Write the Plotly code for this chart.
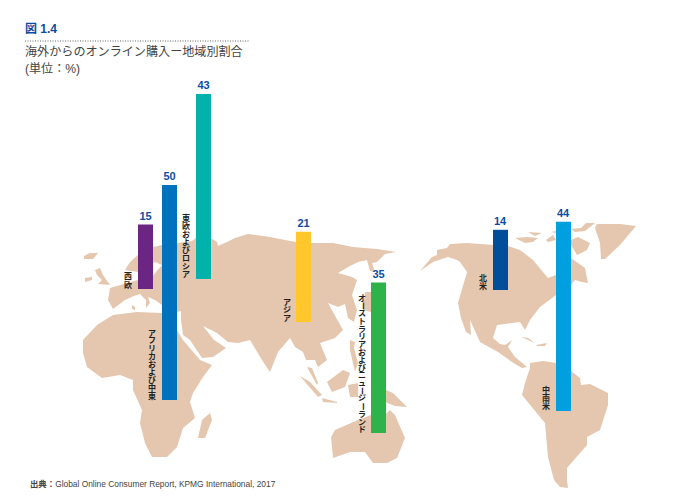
import plotly.graph_objects as go

# chart values
regions = ['西欧', 'アフリカおよび中東', '東欧およびロシア', 'アジア',
           'オーストラリアおよびニュージーランド', '北米', '中南米']
shares = [15, 50, 43, 21, 35, 14, 44]
bar_colors = ['#6B2583', '#0071BC', '#00B2A9', '#FFC72C', '#2DB34A', '#004E9A', '#009FDF']
bar_x = [145.5, 169.5, 203.5, 303.5, 378.5, 500.5, 563.5]
bar_bottom_px = [289, 400, 279, 322, 433, 290, 411]
px_per_unit = 4.3

# label column: x, y of the first char, pitch between chars
label_x = [128, 152, 186, 287, 362, 483, 546]
label_top = [276, 333, 218, 302, 298, 278, 390]
label_pitch = [8.5, 7.9, 8.1, 8, 7.75, 8, 8]

# map outlines
eurasia = [(110,288),(120,285),(128,283),(138,280),(150,279),(162,265),(155,262),(145,268),(138,272),(125,270),
           (130,262),(138,255),(153,247),(162,245),(177,243),(192,241),(197,237),(211,238),(217,242),(218,246),
           (227,242),(235,238),(248,234),(270,237),(285,240),(296,242),(311,243),(333,243),(353,247),(377,249),
           (396,252),(385,254),(377,262),(372,263),(375,272),(370,271),(367,260),(358,262),(350,266),(338,273),
           (352,277),(357,280),(352,295),(357,310),(354,322),(348,318),(345,304),(338,307),(328,303),(335,316),
           (343,330),(335,338),(320,343),(327,360),(318,367),(315,360),(306,360),(303,352),(295,347),(290,338),
           (278,352),(270,372),(262,360),(250,340),(238,343),(228,342),(217,333),(203,326),(214,340),(226,348),
           (213,357),(202,358),(190,340),(183,335),(181,320),(181,311),(177,312),(162,305),(155,300),(148,297),
           (150,303),(146,308),(146,300),(140,294),(134,296),(125,300),(113,309),(108,300)]
africa = [(83,340),(97,325),(113,315),(137,312),(162,313),(177,320),(177,330),(183,340),(200,360),(212,365),
          (203,377),(193,393),(190,402),(195,418),(183,428),(177,447),(167,457),(152,457),(145,443),(140,423),
          (142,410),(133,390),(133,380),(120,375),(102,378),(87,367),(83,353)]
madagascar = [(202,420),(210,413),(212,420),(205,438),(198,438)]
iceland = [(84,256),(90,253),(98,253),(93,259),(84,259)]
britain = [(95,270),(100,268),(103,275),(110,285),(98,284),(102,280),(97,275)]
ireland = [(85,278),(92,277),(92,280),(85,282)]
sardinia = [(132,305),(135,307),(135,310),(132,309)]
japan = [(365,292),(371,292),(371,312),(363,310)]
philippines = [(350,340),(355,342),(354,348),(358,363),(355,372),(350,350)]
malaya = [(307,367),(312,368),(318,383),(317,385)]
sumatra = [(300,376),(310,382),(322,395),(318,397)]
java = [(322,398),(337,402),(337,403),(323,402)]
borneo = [(327,382),(343,370),(350,373),(345,387),(332,392)]
sulawesi = [(348,385),(358,383),(358,397),(350,397)]
new_guinea = [(380,392),(386,390),(393,393),(407,407),(395,406),(386,402),(380,400)]
australia = [(385,415),(390,410),(395,415),(405,438),(397,458),(387,463),(373,463),(365,452),(350,452),
             (333,458),(331,437),(335,430),(358,420),(371,415)]
north_america = [(420,271),(432,257),(437,255),(437,250),(447,248),(450,244),(467,243),(493,245),(508,246),
                 (520,250),(533,260),(548,278),(556,275),(562,262),(571,258),(578,263),(585,268),(588,283),
                 (582,282),(575,280),(571,285),(560,295),(556,295),(540,307),(530,320),(525,330),(520,322),
                 (497,325),(493,338),(500,344),(505,345),(512,340),(508,347),(515,357),(527,367),(522,368),
                 (512,362),(498,352),(480,342),(470,320),(471,335),(466,332),(461,318),(458,303),(467,272),
                 (460,262),(457,260),(448,257),(433,262)]
cuba = [(521,337),(528,338),(535,343),(527,340)]
hispaniola = [(536,345),(547,343),(545,346),(537,346)]
arctic_1 = [(515,238),(527,237),(538,238),(533,242),(525,243)]
arctic_2 = [(528,232),(542,233),(535,236)]
arctic_3 = [(546,240),(553,235),(556,240),(548,242)]
arctic_4 = [(551,232),(556,231),(556,233)]
baffin_n = [(571,229),(581,228),(586,223),(595,223),(585,231),(575,232)]
baffin_s = [(571,240),(578,237),(590,243),(587,250),(577,255),(571,245)]
greenland = [(595,228),(597,224),(620,224),(636,226),(620,245),(605,259),(601,259),(600,243)]
south_america = [(530,363),(543,361),(556,363),(571,371),(580,378),(581,385),(590,384),(608,393),(608,405),
                 (600,430),(587,437),(587,445),(567,468),(567,480),(568,488),(560,487),(554,480),(548,457),
                 (545,423),(522,395),(525,383),(530,368)]

land = [eurasia, africa, madagascar, iceland, britain, ireland, sardinia, japan, philippines, malaya, sumatra,
        java, borneo, sulawesi, new_guinea, australia, north_america, cuba, hispaniola, arctic_1, arctic_2,
        arctic_3, arctic_4, baffin_n, baffin_s, greenland, south_america]

LAND_COLOR = '#E4C7AE'
BLUE_TEXT = '#0B4DA2'
FONT = 'Liberation Sans, Noto Sans CJK JP'
PAGE_MARGIN = 8  # the browser's default body margin pushes the plot in by this much

fig = go.Figure()

for shape in land:
    fig.add_trace(go.Scatter(x=[p[0] for p in shape] + [shape[0][0]],
                             y=[p[1] for p in shape] + [shape[0][1]],
                             mode='lines', fill='toself', fillcolor=LAND_COLOR,
                             line=dict(width=0), hoverinfo='skip'))

# bars sit on their own axis in percent, floating at the region they belong to
bases = [(497 - b) / px_per_unit for b in bar_bottom_px]
fig.add_trace(go.Bar(x=bar_x, y=shares, base=bases, width=15, yaxis='y2',
                     marker=dict(color=bar_colors, line=dict(width=0)),
                     text=shares, textposition='outside', cliponaxis=False,
                     constraintext='none', textangle=0,
                     outsidetextfont=dict(family=FONT, size=11, color=BLUE_TEXT, weight='bold')))

annotations = []


def add_text(x, y, text, size, color, anchor='left', angle=0):
    annotations.append(dict(x=x, y=y, xref='x', yref='y', text=text, showarrow=False,
                            xanchor=anchor, yanchor='middle', textangle=angle,
                            font=dict(family=FONT, size=size, color=color)))


# region names run top to bottom, one char at a time
for name, lx, top, pitch in zip(regions, label_x, label_top, label_pitch):
    for i, ch in enumerate(name):
        add_text(lx, top + i * pitch, '<b>' + ch + '</b>', 8, '#222222', anchor='center',
                 angle=90 if ch == 'ー' else 0)

add_text(23, 29, '<b>図 1.4</b>', 12, BLUE_TEXT)
add_text(23, 52, '海外からのオンライン購入ー地域別割合', 12.1, '#444444')
add_text(23, 69, '(単位：%)', 12.1, '#444444')
add_text(28, 484, '<b>出典：</b>Global Online Consumer Report, KPMG International, 2017', 8.4, '#444444')

fig.add_shape(type='line', x0=25, x1=249, y0=41, y1=41, xref='x', yref='y',
              line=dict(color='#666666', width=1, dash='1px,1.5px'))

fig.update_layout(width=700 - PAGE_MARGIN, height=497 - PAGE_MARGIN, margin=dict(l=0, r=0, t=0, b=0),
                  paper_bgcolor='white', plot_bgcolor='white', showlegend=False,
                  annotations=annotations,
                  xaxis=dict(range=[PAGE_MARGIN, 700], visible=False),
                  yaxis=dict(range=[497, PAGE_MARGIN], visible=False),
                  yaxis2=dict(range=[0, (497 - PAGE_MARGIN) / px_per_unit], overlaying='y', visible=False))

fig.write_html("out.html")
